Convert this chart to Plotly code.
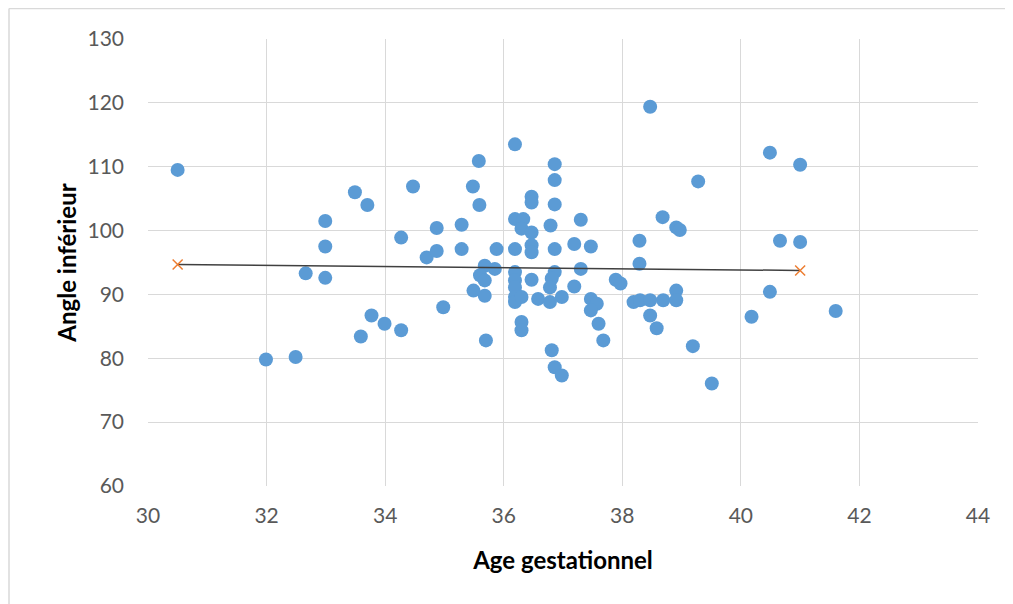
import plotly.graph_objects as go

# Scatter data: gestational age (x) vs lower angle (y)
age = [30.50, 31.99, 32.49, 32.66, 32.99, 32.99, 32.99, 33.49, 33.70, 33.59,
       33.77, 33.99, 34.27, 34.27, 34.47, 34.70, 34.87, 34.87, 34.98, 35.29,
       35.29, 35.48, 35.58, 35.59, 35.68, 35.85, 35.60, 35.68, 35.49, 35.68,
       35.70, 35.88, 36.19, 36.19, 36.33, 36.30, 36.47, 36.47, 36.47, 36.19,
       36.47, 36.47, 36.19, 36.19, 36.19, 36.19, 36.19, 36.30, 36.47, 36.58,
       36.30, 36.30, 36.79, 36.86, 36.86, 36.86, 36.86, 36.86, 36.81, 36.78,
       36.78, 36.98, 36.81, 36.86, 36.98, 37.30, 37.19, 37.47, 37.30, 37.19,
       37.47, 37.57, 37.47, 37.60, 37.68, 37.89, 37.97, 38.19, 38.30, 38.47,
       38.69, 38.91, 38.91, 38.47, 38.58, 38.29, 38.29, 38.47, 38.68, 38.91,
       38.97, 39.28, 39.19, 39.51, 40.18, 40.49, 40.49, 41.00, 40.66, 41.00,
       41.60]
angle = [109.5, 79.8, 80.2, 93.3, 101.5, 97.5, 92.6, 106.0, 104.0, 83.4,
         86.7, 85.4, 84.4, 98.9, 106.9, 95.8, 96.8, 100.4, 88.0, 100.9,
         97.1, 106.9, 110.9, 104.0, 94.5, 94.0, 93.0, 92.2, 90.6, 89.8,
         82.8, 97.1, 113.5, 101.8, 101.8, 100.3, 99.7, 105.3, 104.4, 97.1,
         97.7, 96.6, 93.5, 92.2, 91.1, 89.6, 88.8, 89.6, 92.3, 89.3,
         85.7, 84.4, 100.8, 110.4, 107.9, 104.1, 97.1, 93.5, 92.5, 91.1,
         88.8, 89.6, 81.25, 78.6, 77.3, 101.7, 97.9, 97.5, 94.0, 91.25,
         89.3, 88.55, 87.5, 85.4, 82.8, 92.3, 91.7, 88.8, 89.1, 89.1,
         89.1, 90.6, 89.1, 86.7, 84.7, 98.4, 94.8, 119.4, 102.1, 100.5,
         100.1, 107.7, 81.9, 76.05, 86.5, 90.4, 112.2, 110.3, 98.4, 98.2,
         87.4]

# Fitted (predicted) values at the extremes
fit_age = [30.5, 41.0]
fit_angle = [94.7, 93.75]

x_ticks = [30, 32, 34, 36, 38, 40, 42, 44]
y_ticks = [60, 70, 80, 90, 100, 110, 120, 130]

fig = go.Figure()
fig.add_trace(go.Scatter(
    x=age, y=angle, mode="markers",
    marker=dict(color="#5B9BD5", size=14, line=dict(width=0)),
    showlegend=False, hoverinfo="x+y"))
fig.add_trace(go.Scatter(
    x=fit_age, y=fit_angle, mode="lines+markers",
    line=dict(color="#404040", width=1.5),
    marker=dict(symbol="x-thin", size=10, color="#ED7D31",
                line=dict(color="#ED7D31", width=1.5)),
    showlegend=False))

font_family = "Lato, 'Open Sans', sans-serif"
L, R, T, B = 140, 43, 31, 126
W, H = 1013, 604
pw, ph = W - L - R, H - T - B

fig.update_layout(
    width=W, height=H,
    margin=dict(l=L, r=R, t=T, b=B),
    paper_bgcolor="white", plot_bgcolor="white",
    font=dict(family=font_family, color="#595959", size=21),
    xaxis=dict(range=[30, 44], tickvals=x_ticks, ticktext=[str(v) for v in x_ticks],
               showgrid=True, gridcolor="#D9D9D9", gridwidth=1,
               zeroline=False, showline=False, ticks="",
               ticklabelstandoff=15,
               tickfont=dict(size=21, color="#595959"),
               title=dict(text="<b>Age gestationnel</b>",
                          font=dict(size=24, color="#000000"), standoff=26)),
    yaxis=dict(range=[60, 130], tickvals=y_ticks, ticktext=[str(v) for v in y_ticks],
               showgrid=True, gridcolor="#D9D9D9", gridwidth=1,
               zeroline=False, showline=False, ticks="",
               ticklabelstandoff=23,
               tickfont=dict(size=21, color="#595959"),
               title=dict(text="<b>Angle inférieur</b>",
                          font=dict(size=24, color="#000000"), standoff=4)),
    shapes=[
        dict(type="line", xref="paper", yref="paper",
             x0=(1 - L) / pw, x1=(W + 10 - L) / pw,
             y0=(H - B - 0.5) / ph, y1=(H - B - 0.5) / ph,
             line=dict(color="#D9D9D9", width=1.5)),
        dict(type="line", xref="paper", yref="paper",
             x0=(1 - L) / pw, x1=(1 - L) / pw,
             y0=(H - B - 0.5) / ph, y1=-(B + 20) / ph,
             line=dict(color="#D9D9D9", width=1.5)),
    ],
)

fig.write_html("out.html")
